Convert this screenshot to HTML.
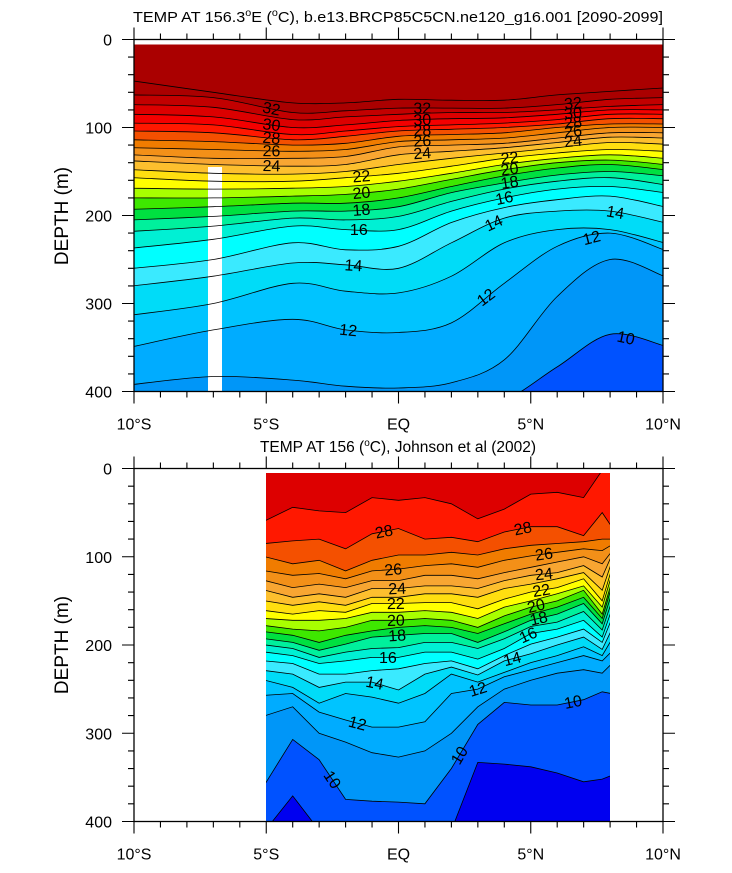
<!DOCTYPE html>
<html><head><meta charset="utf-8"><style>
body{margin:0;background:#fff}
svg text{font-family:"Liberation Sans",sans-serif}
</style></head><body>
<svg id="chart" width="732" height="868" viewBox="0 0 732 868" xmlns="http://www.w3.org/2000/svg">
<defs>
<clipPath id="clipTop"><rect x="134" y="44.5" width="529" height="347.5"/></clipPath>
<clipPath id="clipBot"><rect x="266" y="473" width="344" height="348"/></clipPath>
</defs>
<g id="topFill" clip-path="url(#clipTop)"></g>
<rect x="208" y="167" width="14" height="225" fill="#fff"/>
<g id="topLines" clip-path="url(#clipTop)"></g>
<g id="topLabels"></g>
<g id="botFill" clip-path="url(#clipBot)"></g>
<g id="botLines" clip-path="url(#clipBot)"></g>
<g id="botLabels"></g>
<g id="axes"></g>
<text x="398" y="22" font-size="15" text-anchor="middle" textLength="530" lengthAdjust="spacingAndGlyphs">TEMP AT 156.3<tspan font-size="10" dy="-6">o</tspan><tspan dy="6">E (</tspan><tspan font-size="10" dy="-6">o</tspan><tspan dy="6">C), b.e13.BRCP85C5CN.ne120_g16.001 [2090-2099]</tspan></text>
<text x="398" y="452" font-size="15.5" text-anchor="middle">TEMP AT 156 (<tspan font-size="10" dy="-6">o</tspan><tspan dy="6">C), Johnson et al (2002)</tspan></text>
<text transform="translate(68,216) rotate(-90)" font-size="19" text-anchor="middle">DEPTH (m)</text>
<text transform="translate(68,645) rotate(-90)" font-size="19" text-anchor="middle">DEPTH (m)</text>
</svg>
<script>
// ---------- TOP PANEL DATA ----------
const topLats=[-10,-7,-4,-2,0,2,4,6,8,10];
const topLevels=[33,32,31,30,29,28,27,26,25,24,23,22,21,20,19,18,17,16,15,14,13,12,11,10];
const topDepths=[
[47,60,72,72,68,69,69,63,59,55],
[63,66,83,81,78,78,78,74,68,66],
[74,77,91,88,85,83,83,80,76,74],
[85,88,100,97,92,90,89,85,80,80],
[95,97,108,104,99,97,95,91,85,85],
[104,106,114,110,104,102,100,96,90,90],
[114,116,120,118,110,108,106,100,96,96],
[123,125,127,125,116,114,112,106,100,100],
[131,135,135,133,122,120,118,112,106,106],
[138,142,144,142,131,127,123,117,111,112],
[148,152,153,150,142,135,129,123,117,119],
[157,161,161,157,152,144,135,129,125,127],
[169,170,169,167,161,152,142,135,131,135],
[180,180,178,176,170,159,148,140,137,142],
[193,190,186,186,180,167,155,146,142,148],
[205,201,195,195,190,174,163,154,150,155],
[218,212,203,205,201,184,170,161,157,165],
[237,227,212,216,216,195,180,170,167,174],
[260,250,231,239,235,208,191,182,178,190],
[280,269,254,256,260,231,203,195,195,208],
[313,300,277,286,288,269,231,216,216,231],
[349,330,318,330,333,322,277,235,220,239],
[392,383,387,394,396,390,364,292,250,269],
[420,420,420,420,420,420,410,372,335,348]];
const topLabelLevels=[32,30,28,26,24,32,30,28,26,24,32,30,28,26,24,22,20,18,16,14,12,22,20,18,16,14,12,12,14,10];
const topLabelLats=[-4.8,-4.8,-4.8,-4.8,-4.8,0.9,0.9,0.9,0.9,0.9,6.6,6.6,6.6,6.6,6.6,-1.4,-1.4,-1.4,-1.5,-1.7,-1.9,4.2,4.2,4.2,4.0,3.6,3.3,7.3,8.2,8.6];

// ---------- BOTTOM PANEL DATA ----------
const botLats=[-5,-4,-3,-2,-1,0,1,2,3,4,5,6,7,7.7,8];
const botLevels=[29,28,27,26,25,24,23,22,21,20,19,18,17,16,15,14,13,12,11,10,9];
const botDepths=[
[59,44,48,50,33,36,33,40,57,46,29,27,33,2,2],
[85,82,80,91,74,68,80,78,83,72,66,66,76,50,65],
[100,108,104,116,104,98,98,95,98,91,87,85,83,80,80],
[116,121,119,125,116,114,110,108,112,104,99,95,91,93,87],
[127,135,131,135,127,127,121,121,125,118,112,106,100,108,95],
[138,146,142,146,136,136,133,133,136,127,121,118,110,123,100],
[150,155,151,155,146,146,142,142,146,136,131,125,118,138,108],
[161,165,161,163,153,153,152,152,159,148,140,135,125,150,116],
[170,172,172,170,163,163,161,163,170,157,150,142,133,157,123],
[178,182,184,180,172,172,170,172,180,167,157,150,138,165,131],
[185,189,197,189,184,180,178,180,187,176,165,157,146,170,136],
[193,197,206,199,191,189,187,187,197,185,172,165,153,176,144],
[200,204,214,208,204,203,197,197,204,193,179,174,162,183,153],
[208,212,221,218,214,214,208,208,216,204,187,182,172,191,162],
[218,221,233,233,229,227,221,218,227,212,199,191,182,197,172],
[229,233,248,242,242,251,233,225,234,218,210,200,191,205,184],
[240,248,266,255,259,266,255,233,242,231,220,212,202,212,195],
[257,255,276,285,293,293,287,255,250,236,228,220,212,218,208],
[280,270,300,310,322,327,320,300,270,250,240,232,228,232,222],
[357,307,330,375,377,378,380,340,290,265,268,268,262,253,255],
[410,371,410,410,410,410,410,410,333,335,338,345,355,352,348]];
const botLabelLevels=[28,26,24,22,20,18,16,14,12,10,28,26,24,22,20,18,16,14,12,10,10];
const botLabelLats=[-0.55,-0.2,-0.05,-0.1,-0.1,-0.05,-0.4,-0.9,-1.55,-2.5,4.7,5.5,5.5,5.4,5.2,5.3,4.9,4.3,3.0,2.3,6.6];

const bandColor={33:"#aa0000",32:"#aa0000",31:"#c20000",30:"#dc0000",29:"#f40000",28:"#ff1800",27:"#f45000",26:"#f07c00",25:"#f39018",24:"#f8a632",23:"#fdbf2e",22:"#ffdf10",21:"#ffff00",20:"#a8ff00",19:"#3ee800",18:"#00e040",17:"#00f09c",16:"#00f0d4",15:"#00ffff",14:"#3aeaff",13:"#00dcf8",12:"#00c4ff",11:"#00acff",10:"#0096f8",9:"#0052ff",8:"#0000f0"};

const NS="http://www.w3.org/2000/svg";
const xOf=lat=>134+(lat+10)*26.45;
const yTop=d=>39.5+d*0.88;
const yBot=d=>468.5+d*0.8825;

function mk(tag,attrs,parent){const e=document.createElementNS(NS,tag);for(const k in attrs)e.setAttribute(k,attrs[k]);parent.appendChild(e);return e;}

function smoothPath(pts){
  let d="M"+pts[0][0].toFixed(1)+","+pts[0][1].toFixed(1);
  for(let i=0;i<pts.length-1;i++){
    const p0=pts[Math.max(0,i-1)],p1=pts[i],p2=pts[i+1],p3=pts[Math.min(pts.length-1,i+2)];
    const c1=[p1[0]+(p2[0]-p0[0])/6,p1[1]+(p2[1]-p0[1])/6];
    const c2=[p2[0]-(p3[0]-p1[0])/6,p2[1]-(p3[1]-p1[1])/6];
    d+=" C"+c1[0].toFixed(1)+","+c1[1].toFixed(1)+" "+c2[0].toFixed(1)+","+c2[1].toFixed(1)+" "+p2[0].toFixed(1)+","+p2[1].toFixed(1);
  }
  return d;
}
function linPath(pts){return "M"+pts.map(p=>p[0].toFixed(1)+","+p[1].toFixed(1)).join(" L");}
function interp(lats,vals,lat){
  for(let i=0;i<lats.length-1;i++){if(lat>=lats[i]&&lat<=lats[i+1]){const t=(lat-lats[i])/(lats[i+1]-lats[i]);return vals[i]+t*(vals[i+1]-vals[i]);}}
  return lat<lats[0]?vals[0]:vals[vals.length-1];
}

function drawPanel(lats,levels,depths,yF,fillG,lineG,labelG,base,smooth,labLevels,labLats,prefix){
  const x0=xOf(lats[0])-1,x1=xOf(lats[lats.length-1])+1,yb=yF(420);
  const bg=mk("rect",{x:x0,y:yF(0),width:x1-x0,height:yb-yF(0),fill:base},fillG);
  
  
  levels.forEach((L,i)=>{
    const pts=lats.map((la,j)=>[xOf(la),yF(depths[i][j])]);
    pts[0][0]=x0;pts[pts.length-1][0]=x1;
    const line=smooth?smoothPath(pts):linPath(pts);
    const f=mk("path",{d:line+" L"+x1+","+yb+" L"+x0+","+yb+" Z",fill:bandColor[L-1]},fillG);
    
    
    const l=mk("path",{d:line,fill:"none",stroke:"#000","stroke-width":"0.8"},lineG);
    
    
  });
  labLevels.forEach((L,k)=>{
    const i=levels.indexOf(L);if(i<0)return;
    const la=labLats[k];
    const d=interp(lats,depths[i],la);
    const dl=interp(lats,depths[i],la-0.3),dr=interp(lats,depths[i],la+0.3);
    let ang=Math.atan2(yF(dr)-yF(dl),xOf(la+0.3)-xOf(la-0.3))*180/Math.PI;
    const x=xOf(la),y=yF(d);
    const t=mk("text",{x:x,y:y+5.5,"font-size":"16","text-anchor":"middle",transform:"rotate("+ang.toFixed(1)+" "+x.toFixed(1)+" "+y.toFixed(1)+")"},labelG);
    t.textContent=String(L);
    
    
  });
}
drawPanel(topLats,topLevels,topDepths,yTop,document.getElementById("topFill"),document.getElementById("topLines"),document.getElementById("topLabels"),"#aa0000",true,topLabelLevels,topLabelLats,"top");
drawPanel(botLats,botLevels,botDepths,yBot,document.getElementById("botFill"),document.getElementById("botLines"),document.getElementById("botLabels"),"#dd0000",false,botLabelLevels,botLabelLats,"bottom");

const xTickLabels=["10\u00b0S","5\u00b0S","EQ","5\u00b0N","10\u00b0N"];
const xTickLats=[-10,-5,0,5,10];
const yTickLabels=["0","100","200","300","400"];
const yTickDepths=[0,100,200,300,400];
const ax=document.getElementById("axes");
function axesFor(yF,prefix){
  const left=134,right=663,top=yF(0),bot=yF(400);
  const fr=mk("rect",{x:left,y:top,width:right-left,height:bot-top,fill:"none",stroke:"#000","stroke-width":"1.3"},ax);
  
  
  let d="";
  for(let la=-10;la<=10;la++){
    const x=xOf(la),len=(la%5===0)?12:6;
    d+="M"+x+","+bot+"v"+len+"M"+x+","+top+"v"+(-len);
  }
  for(let dep=0;dep<=400;dep+=20){
    const y=yF(dep),len=(dep%100===0)?12:6;
    d+="M"+left+","+y+"h"+(-len)+"M"+right+","+y+"h"+len;
  }
  const tk=mk("path",{d:d,stroke:"#000","stroke-width":"1.1",fill:"none"},ax);
  
  
  xTickLabels.forEach((s,i)=>{
    const t=mk("text",{x:xOf(xTickLats[i]),y:bot+38,"font-size":"16","text-anchor":"middle"},ax);
    t.textContent=s;
    
    
  });
  yTickLabels.forEach((s,i)=>{
    const t=mk("text",{x:112,y:yF(yTickDepths[i])+6,"font-size":"16","text-anchor":"end"},ax);
    t.textContent=s;
    
    
  });
}
axesFor(yTop,"top");
axesFor(yBot,"bottom");
</script>
</body></html>
